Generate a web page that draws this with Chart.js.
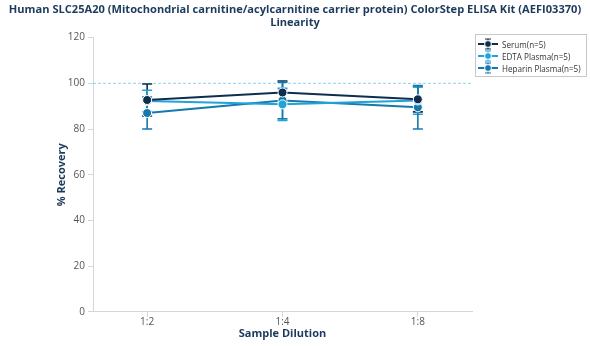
<!DOCTYPE html>
<html>
<head>
<meta charset="utf-8">
<script src="https://cdn.jsdelivr.net/npm/chart.js@4.4.0/dist/chart.umd.min.js"></script>
<style>
  html, body { margin: 0; padding: 0; background: #fff; }
  #wrap { position: relative; width: 590px; height: 346px; }
  #legend {
    position: absolute; left: 475px; top: 34px; width: 110px;
    border: 1px solid #c8c8c8; padding: 3px 0 2px 0;
    font-family: 'Open Sans', sans-serif; font-size: 8.1px; color: #333;
  }
  #legend .row { display: flex; align-items: center; height: 12px; white-space: nowrap; }
  #legend canvas { margin: 0 4px 0 2px; flex: none; }
</style>
</head>
<body>
<div id="wrap">
  <canvas id="chart" width="590" height="346"></canvas>
  <div id="legend"></div>
</div>
<script>
// datos
const dilutions = ['1:2', '1:4', '1:8'];
const serumMean = [92.7, 96.0, 93.0];
const serumSd   = [7.0, 5.0, 5.5];
const edtaMean  = [92.3, 90.8, 92.5];
const edtaSd    = [4.7, 7.0, 6.0];
const hepMean   = [87.0, 92.5, 89.5];
const hepSd     = [7.0, 8.0, 9.5];
const refLine   = 100;
const yTicks    = [0, 20, 40, 60, 80, 100, 120];

const C_SERUM = '#0f2d4f';
const C_EDTA  = '#1fa3d9';
const C_HEP   = '#1679ad';
const TEXT    = '#1b3a5c';

// icono de la leyenda: línea + barra de error + punto
function legendIcon(color) {
  const c = document.createElement('canvas');
  c.width = 20; c.height = 12;
  const g = c.getContext('2d');
  g.strokeStyle = color; g.lineWidth = 2;
  g.beginPath(); g.moveTo(0, 6); g.lineTo(20, 6); g.stroke();
  g.lineWidth = 1.2;
  g.beginPath();
  g.moveTo(10, 1); g.lineTo(10, 11);
  g.moveTo(7, 1); g.lineTo(13, 1);
  g.moveTo(7, 11); g.lineTo(13, 11);
  g.stroke();
  g.fillStyle = color; g.strokeStyle = '#fff'; g.lineWidth = 1;
  g.beginPath(); g.arc(10, 6, 3.4, 0, Math.PI * 2); g.fill(); g.stroke();
  return c;
}

function serie(label, means, sds, color) {
  return {
    label,
    data: means.map((v, i) => ({ x: i + 1, y: v, sd: sds[i] })),
    borderColor: color,
    backgroundColor: color,
    pointBackgroundColor: color,
    pointBorderColor: '#fff',
    pointBorderWidth: 1,
    pointRadius: 4.5,
    borderWidth: 2
  };
}

// barras de error + línea de referencia
const errorBars = {
  id: 'errorBars',
  beforeDatasetsDraw(chart) {
    const { ctx, scales: { x, y }, chartArea } = chart;
    ctx.save();
    // línea de referencia 100%
    ctx.strokeStyle = '#8fd3ee';
    ctx.lineWidth = 1;
    ctx.setLineDash([3, 2]);
    const yr = y.getPixelForValue(refLine);
    ctx.beginPath(); ctx.moveTo(chartArea.left, yr); ctx.lineTo(chartArea.right, yr); ctx.stroke();
    ctx.setLineDash([]);
    chart.data.datasets.forEach(ds => {
      ctx.strokeStyle = ds.borderColor;
      ctx.lineWidth = 1.6;
      ds.data.forEach(p => {
        const px = x.getPixelForValue(p.x);
        const top = y.getPixelForValue(p.y + p.sd);
        const bot = y.getPixelForValue(p.y - p.sd);
        ctx.beginPath();
        ctx.moveTo(px, top); ctx.lineTo(px, bot);
        ctx.moveTo(px - 5, top); ctx.lineTo(px + 5, top);
        ctx.moveTo(px - 5, bot); ctx.lineTo(px + 5, bot);
        ctx.stroke();
      });
    });
    ctx.restore();
  }
};

const chart = new Chart(document.getElementById('chart'), {
  type: 'line',
  data: {
    datasets: [
      serie('Serum(n=5)', serumMean, serumSd, C_SERUM),
      serie('EDTA Plasma(n=5)', edtaMean, edtaSd, C_EDTA),
      serie('Heparin Plasma(n=5)', hepMean, hepSd, C_HEP)
    ]
  },
  options: {
    responsive: false,
    animation: false,
    layout: { padding: { left: 0, right: 0, top: 0, bottom: 6 } },
    plugins: {
      title: {
        display: true,
        text: ['Human SLC25A20 (Mitochondrial carnitine/acylcarnitine carrier protein) ColorStep ELISA Kit (AEFI03370)', 'Linearity'],
        color: TEXT,
        font: { family: 'Open Sans', size: 11.1, weight: 'bold', lineHeight: 1.2 },
        padding: { top: 3, bottom: 8 }
      },
      legend: { display: false },
      tooltip: { enabled: false }
    },
    scales: {
      x: {
        type: 'linear',
        min: 0.6,
        max: 3.4,
        afterBuildTicks: s => { s.ticks = dilutions.map((d, i) => ({ value: i + 1 })); },
        ticks: {
          callback: v => dilutions[v - 1],
          color: '#555',
          padding: 0,
          font: { family: 'Open Sans', size: 10, lineHeight: 1 }
        },
        grid: { drawOnChartArea: false, color: '#cfd8e0', tickLength: 5 },
        border: { color: '#cfd8e0' },
        title: {
          display: true,
          text: 'Sample Dilution',
          color: TEXT,
          font: { family: 'Open Sans', size: 11, weight: 'bold' },
          padding: { top: 0, bottom: 0 }
        }
      },
      y: {
        min: 0,
        max: 120,
        afterBuildTicks: s => { s.ticks = yTicks.map(v => ({ value: v })); },
        afterFit: s => { s.width = 93; },
        ticks: {
          color: '#555',
          padding: 3,
          font: { family: 'Open Sans', size: 10 }
        },
        grid: { drawOnChartArea: false, color: '#cfd8e0', tickLength: 5 },
        border: { color: '#cfd8e0' },
        title: {
          display: true,
          text: '% Recovery',
          color: TEXT,
          font: { family: 'Open Sans', size: 11, weight: 'bold' },
          padding: { top: 55, bottom: 2 }
        }
      },
      // eje vacío a la derecha para dejar sitio a la leyenda
      hueco: {
        type: 'linear',
        position: 'right',
        grid: { display: false },
        border: { display: false },
        ticks: { display: false },
        afterFit: s => { s.width = 118; }
      }
    }
  },
  plugins: [errorBars]
});

// leyenda HTML
const legendEl = document.getElementById('legend');
chart.data.datasets.forEach(ds => {
  const row = document.createElement('div');
  row.className = 'row';
  row.appendChild(legendIcon(ds.borderColor));
  const span = document.createElement('span');
  span.textContent = ds.label;
  row.appendChild(span);
  legendEl.appendChild(row);
});
</script>
</body>
</html>
